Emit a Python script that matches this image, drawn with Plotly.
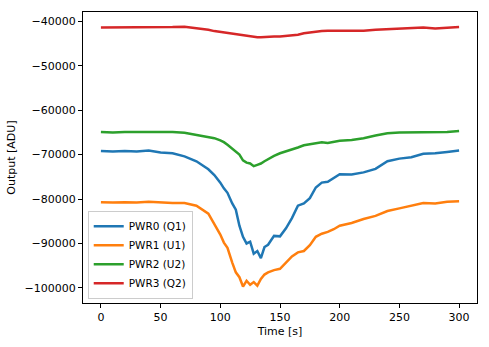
import plotly.graph_objects as go

time_s = [0, 10, 20, 30, 40, 50, 60, 70, 80, 90, 95, 100, 103, 106, 110, 113, 116, 119, 122, 125,
          128, 131, 134, 137, 140, 145, 150, 155, 160, 165, 170, 175, 180, 185, 190, 195, 200,
          210, 220, 230, 240, 250, 260, 270, 280, 290, 300]

pwr0_q1 = [-69200, -69300, -69200, -69300, -69100, -69500, -69700, -70400, -71500, -73300, -74600,
           -76300, -77600, -78600, -81000, -82400, -86000, -88500, -90000, -89600, -92300, -91700,
           -93300, -90800, -90300, -88300, -88400, -86600, -84300, -81500, -81000, -79800, -77400,
           -76300, -76100, -75300, -74400, -74500, -74000, -73200, -71500, -70900, -70600, -69800,
           -69700, -69400, -69100]

pwr1_u1 = [-80700, -80800, -80700, -80800, -80600, -80800, -80900, -80900, -81500, -83300, -85500,
           -88000, -89800, -91000, -94300, -96500, -97600, -99700, -98400, -99300, -98700, -99500,
           -98000, -97000, -96500, -96000, -95700, -94400, -92900, -92000, -91700, -90400, -88500,
           -87800, -87400, -86800, -86000, -85400, -84500, -83800, -82700, -82100, -81500, -80900,
           -81000, -80600, -80500]

pwr2_u2 = [-64900, -65000, -64900, -64900, -64800, -64900, -64900, -65100, -65600, -66000, -66300,
           -66800, -67200, -67800, -68600, -69300, -70000, -71300, -71800, -72000, -72600, -72300,
           -72000, -71500, -71000, -70300, -69700, -69300, -68900, -68400, -67900, -67700, -67500,
           -67200, -67400, -67200, -66900, -66700, -66300, -65700, -65200, -65000, -65000, -64900,
           -65000, -64900, -64700]

pwr3_q2 = [-41400, -41400, -41400, -41400, -41300, -41400, -41300, -41200, -41500, -41900, -42200,
           -42400, -42600, -42700, -42900, -43000, -43100, -43200, -43300, -43400, -43500, -43600,
           -43600, -43500, -43500, -43400, -43400, -43300, -43100, -43000, -42700, -42500, -42300,
           -42200, -42100, -42100, -42100, -42200, -42100, -41900, -41800, -41600, -41500, -41400,
           -41600, -41400, -41300]

series = [
    ("PWR0 (Q1)", pwr0_q1, "#1f77b4"),
    ("PWR1 (U1)", pwr1_u1, "#ff7f0e"),
    ("PWR2 (U2)", pwr2_u2, "#2ca02c"),
    ("PWR3 (Q2)", pwr3_q2, "#d62728"),
]

fig = go.Figure()
for name, vals, color in series:
    fig.add_trace(go.Scatter(x=time_s, y=vals, mode="lines", name=name,
                             line=dict(color=color, width=2.5)))

axis_common = dict(showgrid=False, zeroline=False, showline=True, linecolor="black",
                   linewidth=1, mirror=True, ticks="outside", ticklen=4, tickcolor="black",
                   tickfont=dict(size=11, color="black"))

fig.update_layout(
    width=489, height=347,
    margin=dict(l=83, r=11, t=11, b=40),
    paper_bgcolor="white", plot_bgcolor="white",
    font=dict(family="DejaVu Sans", size=11, color="black"),
    xaxis=dict(range=[-15, 315], tickvals=[0, 50, 100, 150, 200, 250, 300],
               title=dict(text="Time [s]", standoff=4, font=dict(size=11)), **axis_common),
    yaxis=dict(range=[-103400, -37900],
               tickvals=[-40000, -50000, -60000, -70000, -80000, -90000, -100000],
               ticktext=["\u221240000", "\u221250000", "\u221260000", "\u221270000",
                         "\u221280000", "\u221290000", "\u2212100000"],
               title=dict(text="Output [ADU]", standoff=6, font=dict(size=11)), **axis_common),
    legend=dict(x=0.012, y=0.015, xanchor="left", yanchor="bottom",
                bgcolor="rgba(255,255,255,0.8)", bordercolor="#cccccc", borderwidth=1,
                font=dict(size=10.5), tracegroupgap=0, itemwidth=30),
    showlegend=True,
)

fig.write_html("out.html")
